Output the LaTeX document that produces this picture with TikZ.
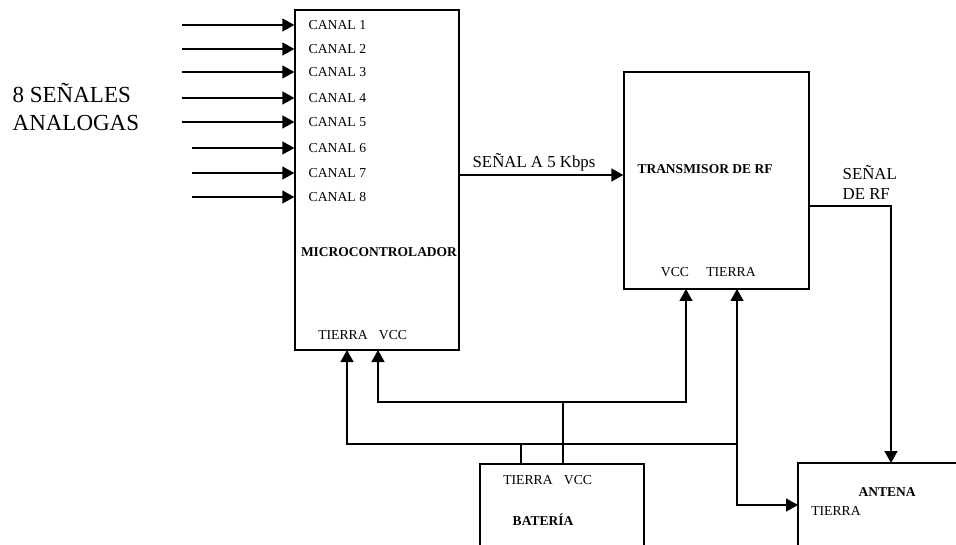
\documentclass[tikz,border=0pt]{standalone}
\usepackage{fontspec}
\setmainfont{Liberation Serif}
\usetikzlibrary{arrows.meta}

\begin{document}
\begin{tikzpicture}[x=1pt, y=-1pt, line width=1.3pt,
    >={Triangle[length=12pt, width=13pt]},
    every node/.style={font=\fontsize{13.7}{16}\selectfont, inner sep=0pt},
    bloque/.style={draw, rectangle, inner sep=0pt},
    titulo/.style={font=\fontsize{13.5}{16}\selectfont\bfseries},
    senal/.style={font=\fontsize{16.8}{20}\selectfont, align=left}]
    \useasboundingbox (0,0) rectangle (956,545);
    \clip (0,0) rectangle (956,545);

    % bloques
    \node[bloque, minimum width=164pt, minimum height=340pt] (micro) at (377,180) {};
    \node[bloque, minimum width=185pt, minimum height=217pt] (trans) at (716.5,180.5) {};
    \node[bloque, minimum width=164pt, minimum height=120pt] (bat) at (562,524) {};
    \node[bloque, minimum width=200pt, minimum height=120pt] (ant) at (898,523) {};

    % canales de entrada
    \foreach \i/\y/\x in {1/25/182, 2/49/182, 3/72/182, 4/98/182, 5/122/182, 6/148/192, 7/173/192, 8/197/192} {
        \coordinate (in\i) at (\x,\y);
        \draw[->] (in\i) -- (in\i -| micro.west);
        \node[anchor=west] (canal\i) at (308,\y) {CANAL \i};
    }
    \node[anchor=west, align=left, font=\fontsize{23}{28}\selectfont] (senales) at (12,107) {8 SEÑALES\\ANALOGAS};

    % textos de los bloques
    \node[titulo] (microtxt) at (379,252) {MICROCONTROLADOR};
    \node (mgndtxt) at (343,335) {TIERRA};
    \node (mvcctxt) at (393,335) {VCC};
    \node[titulo] (transtxt) at (705,169) {TRANSMISOR DE RF};
    \node (tvcctxt) at (675,272) {VCC};
    \node (tgndtxt) at (731,272) {TIERRA};
    \node (bgndtxt) at (528,480) {TIERRA};
    \node (bvcctxt) at (578,480) {VCC};
    \node[titulo] (battxt) at (543,520) {BATERÍA};
    \node[titulo] (anttxt) at (887,492) {ANTENA};
    \node (agndtxt) at (836,511) {TIERRA};

    % senales
    \coordinate (sal) at (459,175);
    \draw[->] (sal) -- (sal -| trans.west);
    \node[senal, anchor=base west] (saltxt) at (472,168) {SEÑAL A 5 Kbps};
    \coordinate (rfout) at (809,206);
    \coordinate (rfin) at (891,463);
    \draw[->] (rfout) -| (rfin);
    \node[senal, anchor=west] (rftxt) at (842,182) {SEÑAL\\DE RF};

    % alimentacion
    \coordinate (mvcc) at (378,350);
    \coordinate (tvcc) at (686,289);
    \coordinate (bvcc) at (563,402);
    \draw[<->] (mvcc) |- (bvcc) -| (tvcc);
    \draw (bvcc) -- (bvcc |- bat.north);

    \coordinate (mgnd) at (347,350);
    \coordinate (tgnd) at (737,289);
    \coordinate (gnd) at (737,444);
    \coordinate (bgnd) at (521,444);
    \coordinate (agnd) at (798,505);
    \draw[->] (gnd) -| (mgnd);
    \draw[<->] (tgnd) |- (agnd);
    \draw (bgnd) -- (bgnd |- bat.north);
\end{tikzpicture}
\end{document}
